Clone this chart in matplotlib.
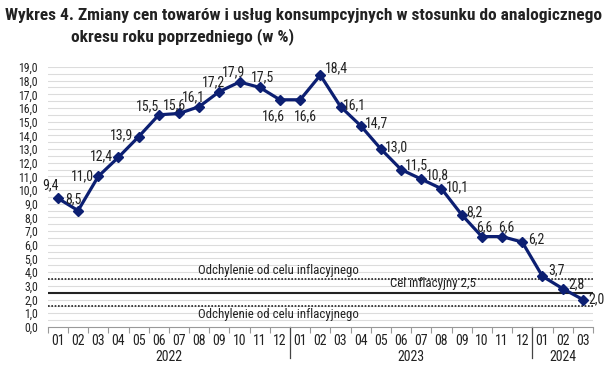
import numpy as np
from matplotlib import pyplot as plt

plt.rcParams['font.family'] = ['Roboto Condensed', 'Roboto', 'DejaVu Sans']

# dane: miesiace 2022-01 .. 2024-03
months = ['01', '02', '03', '04', '05', '06', '07', '08', '09', '10', '11', '12'] * 2 + ['01', '02', '03']
years = ['2022', '2023', '2024']
year_len = [12, 12, 3]
values = [9.4, 8.5, 11.0, 12.4, 13.9, 15.5, 15.6, 16.1, 17.2, 17.9, 17.5, 16.6,
          16.6, 18.4, 16.1, 14.7, 13.0, 11.5, 10.8, 10.1, 8.2, 6.6, 6.6, 6.2,
          3.7, 2.8, 2.0]
target = 2.5
band = [1.5, 3.5]

# przesuniecia etykiet (pkt) i wyrownanie
offs = [(-5, 9, 'center'), (-3, 8, 'center'), (-3, 0, 'right'), (-4, 1, 'right'), (-4, 1, 'right'),
        (-8, 6, 'center'), (-3, 6, 'center'), (-4, 7, 'center'), (-4, 7, 'center'), (-4, 7, 'center'),
        (2, 7, 'center'), (-5, -12, 'center'), (4, -12, 'center'), (3, 5, 'left'), (2, 1, 'left'),
        (3, 2, 'left'), (3, 1, 'left'), (3, 3, 'left'), (3, 3, 'left'), (3, 1, 'left'),
        (3, 2, 'left'), (2, 7, 'center'), (3, 7, 'center'), (4, 2, 'left'), (4, 4, 'left'),
        (4, 3, 'left'), (4, 0, 'left')]

x = np.arange(len(values))
navy = '#0c1f72'
txt = '#222222'

fig = plt.figure(figsize=(6.05, 3.74), dpi=100)
ax = fig.add_axes([0.079, 0.126, 0.901, 0.695])

for v in np.arange(0.5, 19.01, 0.5):
    ax.axhline(v, color='#dcdcdc', lw=0.8, zorder=0)

ax.axhline(band[1], color=txt, lw=1.2, ls=(0, (1, 1)), zorder=2)
ax.axhline(band[0], color=txt, lw=1.2, ls=(0, (1, 1)), zorder=2)
ax.axhline(target, color=txt, lw=1.5, zorder=2)

ax.plot(x, values, color=navy, lw=2.3, marker='D', ms=5, zorder=4)

for i, v in enumerate(values):
    dx, dy, ha = offs[i]
    ax.annotate(f'{v:.1f}'.replace('.', ','), (x[i], v), xytext=(dx, dy), textcoords='offset points',
                ha=ha, va='center', fontsize=10, color=txt, zorder=5)

ax.text(10.9, band[1] + 0.15, 'Odchylenie od celu inflacyjnego', ha='center', va='bottom', fontsize=9.3, color=txt)
ax.text(10.9, band[0] - 0.15, 'Odchylenie od celu inflacyjnego', ha='center', va='top', fontsize=9.3, color=txt)
ax.text(18.6, target + 0.2, 'Cel inflacyjny 2,5', ha='center', va='bottom', fontsize=9.3, color=txt)

ax.set_xlim(-0.5, len(values) - 0.5)
ax.set_ylim(0, 19)
ax.set_yticks(np.arange(0, 19.1, 1))
ax.set_yticklabels([f'{t:.1f}'.replace('.', ',') for t in np.arange(0, 19.1, 1)], fontsize=8.5, color=txt)
ax.tick_params(axis='y', length=0, pad=7)

ax.set_xticks(x)
ax.set_xticklabels(months, fontsize=10, color=txt)
ax.set_xticks(np.arange(-0.5, len(values), 1), minor=True)
ax.tick_params(axis='x', which='major', length=0, pad=5)
ax.tick_params(axis='x', which='minor', length=4, color='#999999', width=0.8)

for s in ['top', 'right', 'left']:
    ax.spines[s].set_visible(False)
ax.spines['bottom'].set_color('#999999')

start = 0
for y, n in zip(years, year_len):
    ax.text(start + (n - 1) / 2, -0.115, y, transform=ax.get_xaxis_transform(), ha='center', va='center',
            fontsize=10, color=txt)
    if start > 0:
        ax.plot([start - 0.5, start - 0.5], [0, -0.12], transform=ax.get_xaxis_transform(),
                color='#444444', lw=0.9, clip_on=False)
    start += n

fig.text(0.008, 0.958, 'Wykres 4. Zmiany cen towarów i usług konsumpcyjnych w stosunku do analogicznego',
         fontsize=12.5, fontweight='bold', va='center', color=txt)
fig.text(0.117, 0.902, 'okresu roku poprzedniego (w %)', fontsize=12.5, fontweight='bold', va='center', color=txt)

fig.savefig('out.png', dpi=100)
